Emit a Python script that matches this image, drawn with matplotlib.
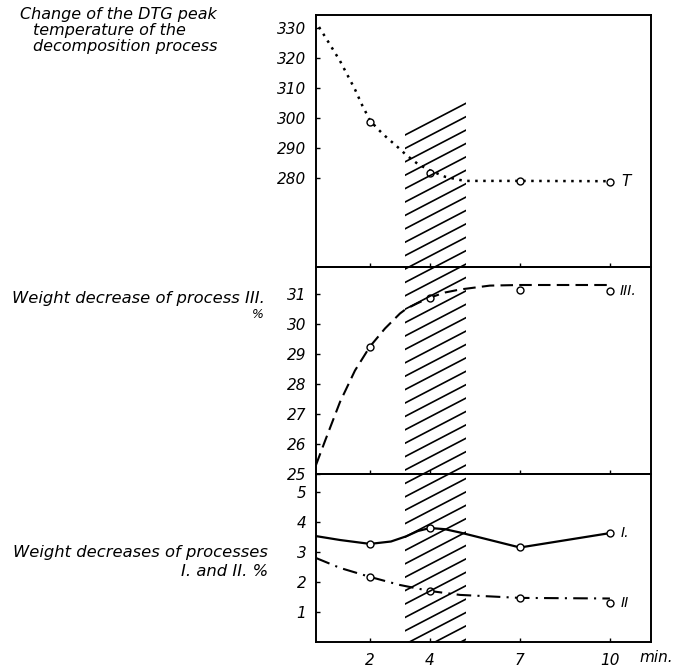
import matplotlib.pyplot as plt
from matplotlib.lines import Line2D

# Durée (min) des mesures
x_pts = [2, 4, 7, 10]
x_ticks = [2, 4, 7, 10]

# Température du pic DTG (points mesurés puis tracé de la courbe)
T_pts = [298.7, 281.7, 279.0, 278.7]
T_curve_x = [0.3, 0.6, 1.0, 1.5, 1.75, 2.0, 2.25, 2.5, 3.0, 3.2, 3.6, 4.0, 4.5, 5.0, 5.2, 7.0, 10.0]
T_curve_y = [330.3, 325.5, 319.0, 309.5, 304.0, 299.2, 296.4, 294.0, 289.6, 287.7, 284.6, 282.5,
             280.4, 279.3, 279.0, 279.0, 278.9]

# Perte de poids du processus III
W3_pts = [29.23, 30.87, 31.13, 31.1]
W3_curve_x = [0.2, 0.5, 1.0, 1.5, 2.0, 2.5, 3.0, 3.2, 3.6, 4.0, 4.5, 5.0, 6.0, 7.0, 10.0]
W3_curve_y = [25.3, 26.1, 27.4, 28.45, 29.25, 29.85, 30.35, 30.5, 30.7, 30.88, 31.05, 31.15, 31.28, 31.3, 31.3]

# Pertes de poids des processus I et II
W1_pts = [3.27, 3.8, 3.17, 3.63]
W1_curve_x = [0.2, 1.0, 2.0, 2.7, 3.2, 3.6, 4.0, 4.5, 5.0, 6.0, 7.0, 10.0]
W1_curve_y = [3.53, 3.4, 3.27, 3.35, 3.52, 3.7, 3.8, 3.76, 3.65, 3.4, 3.15, 3.63]
W2_pts = [2.17, 1.7, 1.47, 1.3]
W2_curve_x = [0.2, 1.0, 2.0, 3.0, 4.0, 5.0, 7.0, 10.0]
W2_curve_y = [2.8, 2.47, 2.17, 1.9, 1.7, 1.57, 1.47, 1.45]

# Zone hachurée (min)
hatch_start, hatch_end = 3.17, 5.2

plt.rcParams['font.family'] = 'DejaVu Sans'
plt.rcParams['font.style'] = 'italic'

fig = plt.figure(figsize=(6.73, 6.71), dpi=100)
W, H = 673.0, 671.0
xmin, xmax = 0.2, 11.37
left, right = 316 / W, 651 / W


def panel(top_px, bot_px):
    ax = fig.add_axes([left, 1 - bot_px / H, right - left, (bot_px - top_px) / H])
    ax.set_xlim(xmin, xmax)
    ax.set_xticks(x_ticks)
    ax.set_xticklabels([])
    ax.tick_params(direction='in', length=3, width=1, labelsize=11, pad=7)
    for s in ax.spines.values():
        s.set_linewidth(1.4)
    ax.patch.set_alpha(0)
    return ax


ax1 = panel(15, 267)
ax2 = panel(267, 474)
ax3 = panel(474, 642)

mk = dict(marker='o', ms=5, mfc='white', mec='black', mew=1, ls='none', zorder=5)

# Panneau du haut : température
ax1.plot(T_curve_x, T_curve_y, color='black', lw=1.8, ls=(0, (1, 2.2)))
ax1.plot(x_pts, T_pts, **mk)
ax1.set_ylim(250.3, 334.3)
ax1.set_yticks([280, 290, 300, 310, 320, 330])
ax1.annotate('T', (10, T_pts[-1]), xytext=(8, 0), textcoords='offset points',
             va='center', fontsize=11)

# Panneau du milieu : processus III
ax2.plot(W3_curve_x, W3_curve_y, color='black', lw=1.5, ls=(0, (6, 3)))
ax2.plot(x_pts, W3_pts, **mk)
ax2.set_ylim(25, 31.9)
ax2.set_yticks([25, 26, 27, 28, 29, 30, 31])
ax2.annotate('III.', (10, W3_pts[-1]), xytext=(7, 0), textcoords='offset points',
             va='center', fontsize=10)

# Panneau du bas : processus I et II
ax3.plot(W1_curve_x, W1_curve_y, color='black', lw=1.6)
ax3.plot(W2_curve_x, W2_curve_y, color='black', lw=1.5, ls=(0, (7, 3, 1, 3)))
ax3.plot(x_pts, W1_pts, **mk)
ax3.plot(x_pts, W2_pts, **mk)
ax3.set_ylim(0, 5.6)
ax3.set_yticks([1, 2, 3, 4, 5])
ax3.set_xticklabels([str(t) for t in x_ticks])
ax3.tick_params(axis='x', pad=8)
ax3.annotate('I.', (10, W1_pts[-1]), xytext=(8, 0), textcoords='offset points',
             va='center', fontsize=10)
ax3.annotate('II', (10, W2_curve_y[-1]), xytext=(8, -3), textcoords='offset points',
             va='center', fontsize=10)
ax3.text(11.0, -0.5, 'min.', fontsize=11, ha='left', va='center')

# Hachures obliques traversant les trois panneaux
hx0 = left + (hatch_start - xmin) / (xmax - xmin) * (right - left)
hx1 = left + (hatch_end - xmin) / (xmax - xmin) * (right - left)
top_h, bot_h = 100.0, 642.0
hax = fig.add_axes([hx0, 1 - bot_h / H, hx1 - hx0, (bot_h - top_h) / H])
hax.set_xlim(0, 1)
hax.set_ylim(bot_h - top_h, 0)
hax.axis('off')
hax.patch.set_alpha(0)
y0 = 35.0
while y0 < bot_h - top_h + 40:
    hax.add_line(Line2D([0, 1], [y0, y0 - 31.7], color='black', lw=1.2))
    y0 += 13.4

# Libellés à gauche
fig.text(20 / W, 1 - 7 / H, 'Change of the DTG peak', fontsize=11.5, va='top')
fig.text(33 / W, 1 - 23 / H, 'temperature of the', fontsize=11.5, va='top')
fig.text(33 / W, 1 - 39 / H, 'decomposition process', fontsize=11.5, va='top')
fig.text(265 / W, 1 - 298 / H, 'Weight decrease of process III.', fontsize=11.8,
         ha='right', va='center')
fig.text(264 / W, 1 - 314 / H, '%', fontsize=9, ha='right', va='center')
fig.text(268 / W, 1 - 553 / H, 'Weight decreases of processes', fontsize=11.8,
         ha='right', va='center')
fig.text(268 / W, 1 - 571 / H, 'I. and II. %', fontsize=11.8, ha='right', va='center')

fig.savefig('out.png', dpi=100)
